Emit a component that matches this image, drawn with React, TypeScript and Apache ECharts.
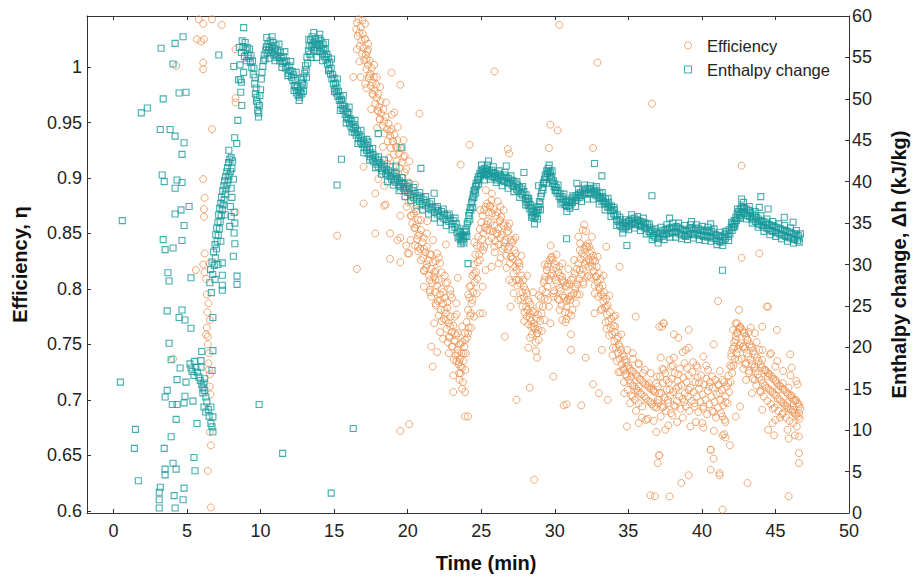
import React, { useEffect, useRef } from 'react';
import * as echarts from 'echarts';

type P = [number, number];

// ---------- Efficiency (η), left axis ----------
const effEarly: P[] = [
  [5.8,1.043],[6.7,1.043],[6.1,1.039],[7.36,1.038],[5.67,1.025],[5.95,1.023],[6.15,1.025],[8.3,1.016],[4.26,1.001],[6.1,1.004],[6.1,0.998],
  [8.3,0.972],[8.3,0.968],[6.7,0.944],[6.1,0.899],[6.2,0.882],[6.15,0.872],[6.15,0.865],[8.3,0.869],[6.2,0.832],[6.1,0.822],[5.6,0.817],
  [6.2,0.815],[6.5,0.823],[6.35,0.795],[6.55,0.772],[6.35,0.765],[6.28,0.759],[6.41,0.757],[6.41,0.75],[6.49,0.742],[4.05,0.737],[6.55,0.723],
  [6.55,0.712],[6.55,0.671],[6.62,0.659],[6.41,0.636],[6.62,0.603],[6.45,0.733],[6.5,0.727],[6.6,0.705],[6.38,0.779],[6.45,0.787],[6.3,0.809]
];

const effBandA: P[] = [
  [16.55,1.04],[16.6,1.028],[16.65,1.043],[16.7,1.031],[16.75,1.019],[16.8,1.036],[16.85,1.024],[16.9,1.012],[16.95,1.03],[17.0,1.017],
  [17.05,1.006],[17.1,1.025],[17.15,1.011],[17.2,0.998],[17.25,1.014],[17.3,1.002],[17.35,0.99],[17.4,1.006],[17.45,0.994],[17.5,0.983],
  [17.55,0.999],[17.6,0.986],[17.65,0.975],[17.7,0.991],[17.75,0.979],[17.8,0.967],[17.85,0.984],[17.9,0.972],[17.95,0.961],[18.0,0.976],
  [18.05,0.964],[18.1,0.953],[18.15,0.969],[18.2,0.958],[18.3,0.947],[18.35,0.962],[18.4,0.951],[18.45,0.94],[18.5,0.955],[18.6,0.944],
  [18.65,0.933],[18.7,0.949],[18.8,0.938],[18.85,0.927],[18.9,0.944],[19.0,0.933],[19.05,0.921],[19.1,0.939],[19.2,0.928],[19.25,0.915],
  [19.3,0.934],[19.4,0.922],[19.45,0.909],[19.5,0.927],[19.6,0.914],[19.65,0.9],[19.7,0.919],[19.8,0.905],[19.85,0.89],[19.9,0.908],
  [20.0,0.893],[20.05,0.878],[20.1,0.896],[20.2,0.88],[20.25,0.866],[20.3,0.884],[20.4,0.868],[20.45,0.855],[20.5,0.872],[20.6,0.858],
  [20.65,0.845],[20.7,0.862],[20.8,0.849],[20.85,0.836],[20.9,0.853],[21.0,0.842],[21.05,0.828],[21.1,0.846],[21.2,0.833],[21.25,0.819],
  [21.3,0.838],[21.4,0.826],[21.45,0.812],[21.5,0.831],[21.6,0.818],[21.65,0.805],[21.7,0.824],[21.8,0.811],[21.85,0.797],[21.9,0.816],
  [22.0,0.803],[22.05,0.789],[22.1,0.808],[22.2,0.795],[22.25,0.781],[22.3,0.8],[22.4,0.787],[22.45,0.773],[22.5,0.792],[22.6,0.778],
  [22.65,0.764],[22.7,0.783],[22.8,0.769],[22.85,0.756],[22.9,0.775],[23.0,0.761],[23.05,0.748],[23.1,0.767],[23.2,0.753],[23.25,0.74],
  [23.3,0.758],[23.4,0.745],[23.45,0.732],[23.5,0.75],[23.55,0.737],[23.6,0.724],[23.65,0.742],[23.7,0.729],[23.75,0.716],[23.8,0.735],
  [23.85,0.748],[23.9,0.76],[23.95,0.742]
];

const effSpreadA: P[] = [
  [15.2,0.848],[16.55,0.818],[16.3,0.991],[16.8,0.991],[17.4,0.992],[17.9,0.991],[17.2,0.981],[18.9,0.995],[19.5,0.984],[17.6,0.976],
  [19.1,0.959],[20.8,0.958],[24.2,0.93],[23.6,0.912],[17.0,0.91],[18.0,0.899],[18.4,0.893],[17.8,0.886],[18.6,0.913],[19.1,0.904],
  [19.7,0.895],[20.1,0.886],[17.0,0.877],[18.4,0.875],[18.5,0.876],[19.5,0.866],[20.2,0.866],[17.8,0.85],[18.8,0.85],[20.7,0.848],
  [19.5,0.846],[19.9,0.839],[20.5,0.839],[21.1,0.836],[22.6,0.84],[18.8,0.827],[20.1,0.832],[21.6,0.831],[22.2,0.823],[19.5,0.824],
  [19.3,0.844],[20.0,0.832],[20.2,0.844],[20.7,0.838],[20.9,0.826],[21.1,0.817],[21.1,0.802],[21.5,0.808],[21.8,0.815],[22.0,0.832],
  [21.6,0.793],[21.9,0.787],[22.2,0.79],[22.7,0.806],[22.9,0.799],[23.4,0.81],[22.5,0.781],[21.8,0.769],[22.6,0.772],[22.9,0.766],
  [23.2,0.775],[22.2,0.761],[22.8,0.757],[23.4,0.76],[23.7,0.766],[24.1,0.76],[21.6,0.748],[22.0,0.743],[23.0,0.748],[23.6,0.751],
  [23.9,0.754],[23.4,0.742],[23.8,0.742],[23.5,0.734],[23.6,0.73],[23.5,0.724],[21.7,0.73],[23.1,0.707],[23.7,0.71],[23.9,0.707],
  [24.1,0.685],[19.5,0.672],[20.1,0.678],[24.2,0.802],[24.4,0.79],[24.5,0.775],[17.1,1.039],[16.5,1.034],[16.55,1.016],[17.1,1.025],
  [17.3,1.016],[17.2,1.007],[18.0,0.96],[18.1,0.953],[18.8,0.942],[19.0,0.933],[19.3,0.927],[19.8,0.92],[20.5,0.855],[20.9,0.862],
  [21.3,0.85],[20.6,0.87],[21.3,0.822],[21.5,0.797],[21.9,0.808],[22.3,0.815],[22.1,0.776],[22.4,0.797],[22.7,0.788],[23.0,0.792],
  [23.2,0.76],[23.3,0.787],[22.4,0.755],[22.8,0.742],[23.3,0.735],[23.1,0.722],[22.6,0.805],[21.9,0.825]
];

const effBandB: P[] = [
  [24.0,0.77],[24.05,0.756],[24.1,0.781],[24.15,0.765],[24.2,0.792],[24.25,0.776],[24.3,0.803],[24.35,0.787],[24.4,0.812],[24.45,0.797],
  [24.5,0.822],[24.55,0.806],[24.6,0.831],[24.65,0.815],[24.7,0.839],[24.75,0.824],[24.8,0.847],[24.85,0.831],[24.9,0.854],[24.95,0.838],
  [25.0,0.86],[25.05,0.845],[25.1,0.866],[25.15,0.85],[25.2,0.871],[25.25,0.855],[25.3,0.874],[25.35,0.858],[25.4,0.877],[25.45,0.861],
  [25.5,0.869],[25.55,0.853],[25.6,0.875],[25.65,0.86],[25.7,0.846],[25.75,0.868],[25.8,0.852],[25.85,0.872],[25.9,0.857],[25.95,0.843],
  [26.0,0.866],[26.05,0.85],[26.1,0.869],[26.15,0.854],[26.2,0.84],[26.25,0.861],[26.3,0.846],[26.35,0.865],[26.4,0.849],[26.45,0.836],
  [26.5,0.857],[26.55,0.842],[26.6,0.859],[26.65,0.844],[26.7,0.83],[26.75,0.851],[26.8,0.836],[26.85,0.852],[26.9,0.838],[26.95,0.823],
  [27.0,0.844],[27.05,0.829],[27.1,0.842],[27.15,0.827],[27.2,0.814],[27.25,0.835],[27.3,0.82],[27.35,0.832],[27.4,0.817],[27.45,0.803],
  [27.5,0.824],[27.55,0.808],[27.6,0.82],[27.65,0.805],[27.7,0.791],[27.75,0.812],[27.8,0.797],[27.85,0.808],[27.9,0.793],[27.95,0.779],
  [28.0,0.799],[28.05,0.784],[28.1,0.796],[28.15,0.781],[28.2,0.768],[28.25,0.788],[28.3,0.774],[28.35,0.786],[28.4,0.771],[28.45,0.759],
  [28.5,0.78],[28.55,0.766],[28.6,0.779],[28.65,0.764],[28.7,0.752],[28.75,0.773],[28.8,0.76],[28.85,0.777],[28.9,0.763],[28.95,0.785],
  [29.0,0.771],[29.05,0.792],[29.1,0.778],[29.15,0.799],[29.2,0.784],[29.25,0.806],[29.3,0.791],[29.35,0.811],[29.4,0.797],[29.45,0.817],
  [29.5,0.802],[29.55,0.822],[29.6,0.808],[29.65,0.826],[29.7,0.812],[29.75,0.828],[29.8,0.814],[29.85,0.826],[29.9,0.812],[29.95,0.798],
  [30.0,0.822],[30.05,0.808],[30.1,0.819],[30.15,0.805],[30.2,0.791],[30.25,0.815],[30.3,0.801],[30.35,0.812],[30.4,0.798],[30.45,0.785],
  [30.5,0.808],[30.55,0.794],[30.6,0.806],[30.65,0.792],[30.7,0.779],[30.75,0.803],[30.8,0.789],[30.85,0.805],[30.9,0.791],[30.95,0.778],
  [31.0,0.804],[31.05,0.79],[31.1,0.808],[31.15,0.794],[31.2,0.781],[31.25,0.81],[31.3,0.796],[31.35,0.814],[31.4,0.8],[31.45,0.787],
  [31.5,0.818],[31.55,0.804],[31.6,0.823],[31.65,0.809],[31.7,0.795],[31.75,0.827],[31.8,0.813],[31.85,0.832],[31.9,0.818],[31.95,0.804],
  [32.0,0.836],[32.05,0.822],[32.1,0.839],[32.15,0.825],[32.2,0.811],[32.25,0.841],[32.3,0.827],[32.35,0.838],[32.4,0.824],[32.45,0.81],
  [32.5,0.834],[32.55,0.82],[32.6,0.83],[32.65,0.816],[32.7,0.803],[32.75,0.825],[32.8,0.811],[32.85,0.82],[32.9,0.806],[32.95,0.793],
  [33.0,0.814],[33.05,0.8],[33.1,0.809],[33.15,0.795],[33.2,0.782],[33.25,0.803],[33.3,0.789],[33.35,0.797],[33.4,0.783],[33.45,0.77],
  [33.5,0.791],[33.55,0.777],[33.6,0.785],[33.65,0.771],[33.7,0.758],[33.75,0.779],[33.8,0.765],[33.85,0.773],[33.9,0.759],[33.95,0.747],
  [34.0,0.767],[34.05,0.753],[34.1,0.761],[34.15,0.747],[34.2,0.735],[34.25,0.755],[34.3,0.742],[34.35,0.75],[34.4,0.737],[34.45,0.725],
  [34.5,0.745],[34.55,0.732],[34.6,0.741],[34.65,0.728],[34.7,0.716],[34.75,0.736],[34.8,0.723],[34.85,0.734],[34.9,0.721],[34.95,0.709],
  [35.0,0.731],[35.05,0.718],[35.1,0.728],[35.15,0.715],[35.2,0.704],[35.25,0.726],[35.3,0.713],[35.35,0.725],[35.4,0.712],[35.45,0.7],
  [35.5,0.723],[35.55,0.71],[35.6,0.721],[35.65,0.708],[35.7,0.697],[35.75,0.719],[35.8,0.706],[35.85,0.718],[35.9,0.705],[35.95,0.694],
  [36.0,0.716],[36.1,0.703],[36.15,0.714],[36.2,0.701],[36.3,0.713],[36.35,0.699],[36.4,0.711],[36.5,0.698],[36.55,0.71],[36.6,0.696],
  [36.7,0.708],[36.75,0.694],[36.8,0.707],[36.9,0.693]
];

const effSpreadB: P[] = [
  [24.5,0.814],[24.7,0.796],[24.3,0.778],[24.9,0.778],[25.1,0.802],[24.9,0.826],[25.2,0.838],[25.4,0.853],[25.6,0.874],[25.7,0.88],
  [26.3,0.874],[26.3,0.862],[26.1,0.85],[26.8,0.856],[25.9,0.838],[26.6,0.838],[27.2,0.844],[27.0,0.829],[27.6,0.823],[26.2,0.823],
  [27.4,0.808],[27.9,0.802],[28.2,0.79],[28.3,0.778],[28.6,0.769],[28.8,0.76],[28.9,0.754],[28.4,0.766],[28.1,0.775],[27.8,0.784],
  [27.2,0.796],[26.9,0.808],[25.7,0.82],[25.3,0.817],[27.0,0.784],[29.7,0.948],[30.2,0.943],[26.8,0.926],[26.9,0.922],[29.6,0.927],
  [32.6,0.927],[23.9,0.685],[26.6,0.757],[25.1,0.778],[28.2,0.747],[28.8,0.738],[29.9,0.721],[28.3,0.711],[27.4,0.7],[30.6,0.695],
  [30.8,0.696],[31.8,0.695],[31.1,0.745],[31.1,0.759],[32.1,0.738],[32.6,0.714],[33.2,0.745],[33.0,0.706],[33.6,0.7],[32.7,0.778],
  [35.5,0.775],[29.7,0.769],[30.5,0.772],[30.8,0.773],[34.4,0.82],[33.5,0.838],[28.6,0.628],[36.5,0.614],[37.1,0.766],[37.4,0.769],
  [37.0,0.643],[37.1,0.65],[34.9,0.676],[35.7,0.679],[36.2,0.682],[29.3,0.808],[29.5,0.82],[29.8,0.829],[30.3,0.82],[30.5,0.811],
  [30.8,0.802],[31.0,0.793],[30.8,0.784],[30.3,0.79],[29.9,0.796],[29.6,0.784],[29.3,0.772],[31.4,0.802],[31.7,0.817],[32.0,0.829],
  [32.2,0.838],[32.4,0.832],[32.6,0.826],[32.3,0.82],[32.8,0.811],[33.0,0.802],[33.3,0.793],[33.5,0.784],[34.0,0.775],[34.1,0.766],
  [34.3,0.757],[34.4,0.748],[34.7,0.739],[34.9,0.73],[35.2,0.721],[35.3,0.742],[35.7,0.733],[36.0,0.724],[36.4,0.715],[36.7,0.709],
  [37.0,0.7],[37.4,0.694],[35.3,0.703],[35.7,0.712],[34.7,0.727],[31.7,0.835],[31.9,0.853],[32.0,0.858],[31.6,0.847],[30.3,1.038],
  [32.9,1.004],[25.9,0.996],[36.6,0.967]
];

const effBandC: P[] = [
  [37.0,0.712],[37.1,0.7],[37.15,0.721],[37.25,0.706],[37.3,0.693],[37.35,0.715],[37.45,0.702],[37.5,0.724],[37.55,0.69],[37.6,0.709],
  [37.7,0.697],[37.75,0.716],[37.85,0.704],[37.9,0.688],[37.95,0.719],[38.05,0.707],[38.1,0.695],[38.15,0.724],[38.25,0.71],[38.3,0.699],
  [38.35,0.717],[38.45,0.703],[38.5,0.728],[38.55,0.692],[38.6,0.713],[38.7,0.701],[38.75,0.72],[38.85,0.706],[38.9,0.694],[38.95,0.716],
  [39.05,0.703],[39.1,0.722],[39.15,0.69],[39.2,0.711],[39.3,0.699],[39.35,0.725],[39.45,0.707],[39.5,0.694],[39.55,0.716],[39.65,0.703],
  [39.7,0.72],[39.75,0.689],[39.8,0.71],[39.9,0.698],[39.95,0.722],[40.05,0.705],[40.1,0.692],[40.15,0.714],[40.25,0.7],[40.3,0.719],
  [40.35,0.687],[40.4,0.708],[40.5,0.696],[40.55,0.716],[40.65,0.703],[40.7,0.69],[40.75,0.711],[40.85,0.698],[40.9,0.718],[40.95,0.684],
  [41.0,0.705],[41.1,0.693],[41.15,0.713],[41.25,0.7],[41.3,0.688],[41.35,0.709],[41.45,0.695],[41.5,0.716],[41.55,0.682],[41.6,0.703],
  [41.7,0.712],[41.75,0.697],[41.8,0.722],[41.85,0.707],[41.9,0.731],[41.95,0.716],[42.0,0.739],[42.05,0.724],[42.1,0.746],[42.15,0.731],
  [42.2,0.752],[42.25,0.737],[42.3,0.757],[42.35,0.742],[42.4,0.761],[42.45,0.746],[42.5,0.764],[42.55,0.749],[42.6,0.766],[42.65,0.751],
  [42.7,0.737],[42.75,0.763],[42.8,0.748],[42.85,0.761],[42.9,0.746],[42.95,0.732],[43.0,0.757],[43.05,0.742],[43.1,0.754],[43.15,0.739],
  [43.2,0.726],[43.25,0.75],[43.3,0.736],[43.35,0.747],[43.4,0.732],[43.45,0.719],[43.5,0.744],[43.55,0.729],[43.6,0.741],[43.65,0.726],
  [43.7,0.713],[43.75,0.738],[43.8,0.723],[43.85,0.735],[43.9,0.72],[43.95,0.708],[44.0,0.732],[44.05,0.718],[44.1,0.729],[44.15,0.715],
  [44.2,0.703],[44.25,0.727],[44.3,0.713],[44.35,0.726],[44.4,0.711],[44.45,0.699],[44.5,0.724],[44.55,0.71],[44.6,0.723],[44.65,0.708],
  [44.7,0.696],[44.75,0.721],[44.8,0.707],[44.85,0.719],[44.9,0.705],[44.95,0.693],[45.0,0.717],[45.05,0.704],[45.1,0.715],[45.15,0.701],
  [45.2,0.69],[45.25,0.713],[45.3,0.7],[45.35,0.712],[45.4,0.698],[45.45,0.687],[45.5,0.71],[45.55,0.697],[45.6,0.709],[45.65,0.695],
  [45.7,0.684],[45.75,0.707],[45.8,0.694],[45.85,0.705],[45.9,0.692],[45.95,0.681],[46.0,0.704],[46.05,0.691],[46.1,0.702],[46.15,0.689],
  [46.2,0.679],[46.25,0.7],[46.3,0.688],[46.35,0.699],[46.4,0.686],[46.45,0.676],[46.5,0.697],[46.55,0.685],[46.6,0.694],[46.65,0.683],
  [46.7,0.692]
];

const effSpreadC: P[] = [
  [37.4,0.769],[37.3,0.766],[38.1,0.759],[38.4,0.756],[39.1,0.763],[40.8,0.75],[37.2,0.738],[37.8,0.736],[38.1,0.738],[38.9,0.745],
  [39.1,0.747],[38.7,0.743],[37.4,0.727],[37.9,0.73],[39.4,0.734],[40.1,0.739],[40.3,0.731],[39.7,0.729],[39.0,0.729],[38.4,0.723],
  [37.6,0.718],[36.9,0.715],[37.1,0.706],[37.8,0.709],[38.4,0.712],[39.1,0.709],[39.8,0.715],[40.5,0.712],[41.1,0.714],[41.4,0.718],
  [40.7,0.721],[41.2,0.706],[41.6,0.698],[37.0,0.697],[37.7,0.7],[38.2,0.694],[38.8,0.698],[39.5,0.697],[40.1,0.694],[40.8,0.689],
  [41.4,0.685],[41.6,0.68],[37.2,0.685],[38.0,0.686],[38.7,0.684],[39.6,0.68],[40.1,0.675],[37.5,0.673],[36.9,0.671],[40.6,0.655],
  [40.8,0.647],[40.6,0.637],[41.2,0.632],[41.4,0.668],[41.9,0.659],[41.6,0.666],[41.8,0.715],[42.0,0.73],[42.0,0.742],[42.2,0.748],
  [42.3,0.754],[42.4,0.76],[42.4,0.769],[42.6,0.765],[42.9,0.76],[43.2,0.761],[43.6,0.76],[43.1,0.754],[42.8,0.748],[43.4,0.748],
  [43.9,0.745],[44.1,0.736],[42.5,0.736],[43.0,0.733],[43.6,0.73],[43.2,0.724],[43.6,0.718],[44.3,0.727],[44.7,0.742],[45.0,0.73],
  [44.5,0.721],[44.0,0.707],[45.0,0.718],[45.2,0.709],[45.5,0.715],[45.9,0.711],[46.1,0.704],[46.4,0.7],[46.6,0.696],[46.6,0.688],
  [46.2,0.691],[45.8,0.697],[45.5,0.688],[45.0,0.682],[44.5,0.673],[44.9,0.668],[45.9,0.665],[46.6,0.667],[46.0,0.741],[46.1,0.729],
  [46.5,0.714],[44.8,0.679],[44.1,0.691],[42.3,0.685],[42.6,0.694],[43.0,0.718],[43.4,0.706],[42.3,0.769],[44.5,0.784],[45.1,0.763],
  [44.1,0.766],[42.7,0.911],[42.7,0.828],[43.9,0.832],[41.1,0.789],[44.4,0.784],[36.8,0.613],[37.8,0.613],[39.1,0.632],[38.6,0.625],
  [43.1,0.625],[45.9,0.613],[46.6,0.652],[46.6,0.643],[41.2,0.634],[40.6,0.655],[37.1,0.65],[41.4,0.601]
];

const effWide: P[] = [
  [16.72,1.005],[16.92,1.042],[17.12,0.985],[17.32,1.021],[17.52,0.962],[17.72,1.002],[17.92,0.945],[18.12,0.982],[18.32,0.928],[18.52,0.968],
  [18.72,0.918],[18.92,0.957],[19.12,0.905],[19.32,0.946],[19.52,0.889],[19.72,0.934],[19.92,0.874],[20.12,0.915],[20.32,0.859],[20.52,0.894],
  [20.72,0.834],[20.92,0.876],[21.12,0.816],[21.32,0.861],[21.52,0.799],[21.72,0.844],[21.92,0.785],[22.12,0.828],[22.32,0.771],[22.52,0.812],
  [22.72,0.752],[22.92,0.795],[23.12,0.736],[23.32,0.777],[23.52,0.718],[23.72,0.752],[23.92,0.727],[24.12,0.795],[24.32,0.765],[24.52,0.842],
  [24.72,0.809],[24.92,0.871],[25.12,0.835],[25.32,0.889],[25.52,0.843],[25.72,0.886],[25.92,0.833],[26.12,0.879],[26.32,0.828],[26.52,0.871],
  [26.72,0.819],[26.92,0.859],[27.12,0.806],[27.32,0.846],[27.52,0.79],[27.72,0.83],[27.92,0.771],[28.12,0.812],[28.32,0.756],[28.52,0.797],
  [28.72,0.744],[28.92,0.794],[29.12,0.762],[29.32,0.822],[29.52,0.79],[29.72,0.839],[29.92,0.793],[30.12,0.831],[30.32,0.781],[30.52,0.823],
  [30.72,0.77],[30.92,0.818],[31.12,0.776],[31.32,0.826],[31.52,0.795],[31.72,0.841],[31.92,0.806],[32.12,0.852],[32.32,0.812],[32.52,0.847],
  [32.72,0.796],[32.92,0.829],[33.12,0.781],[33.32,0.812],[33.52,0.764],[33.72,0.794],[33.92,0.74],[34.12,0.776],[34.32,0.725],[34.52,0.759],
  [34.72,0.706],[34.92,0.745],[35.12,0.697],[35.32,0.737],[35.52,0.69],[35.72,0.732],[35.92,0.684],[36.12,0.727],[36.32,0.683],[36.52,0.724],
  [36.72,0.681],[36.92,0.721],[37.32,0.728],[37.72,0.677],[38.02,0.731],[38.32,0.68],[38.82,0.733],[39.22,0.676],[39.62,0.731],[40.02,0.679],
  [40.42,0.727],[40.82,0.672],[41.22,0.726],[41.52,0.669],[42.12,0.763],[42.52,0.781],[42.82,0.728],[43.32,0.765],[43.72,0.752],[44.12,0.745],
  [44.62,0.741],[45.12,0.735],[45.52,0.726],[46.02,0.722],[46.42,0.717],[44.82,0.692],[45.32,0.684],[45.82,0.673],[46.32,0.668]
];

// ---------- Enthalpy change (Δh, kJ/kg), right axis ----------
const enthEarly: P[] = [
  [8.85,58.6],[4.73,57.5],[4.19,56.7],[3.24,56.1],[4.05,54.2],[7.16,55.3],[8.18,53.9],[4.93,50.8],[4.46,50.7],[3.38,50.0],[2.3,48.9],
  [1.89,48.3],[8.72,49.2],[3.18,46.3],[3.85,46.3],[4.19,45.5],[4.8,44.7],[4.66,43.3],[8.24,45.3],[8.38,44.6],[7.84,43.8],[3.31,40.8],
  [3.45,40.0],[4.32,40.2],[4.66,39.9],[4.19,39.2],[0.6,35.3],[5.14,37.0],[4.59,36.6],[4.19,36.1],[4.8,34.7],[3.38,33.0],[3.51,31.8],
  [4.05,32.0],[4.66,32.9],[3.7,29.0],[3.78,28.0],[5.27,28.4],[7.4,30.2],[7.4,28.7],[7.4,27.5],[7.4,26.9],[8.4,28.6],[8.4,27.6],
  [3.65,24.4],[4.66,24.5],[4.46,23.6],[4.86,23.3],[5.27,22.3],[6.76,23.6],[3.78,20.5],[6.76,19.6],[3.92,18.5],[6.0,19.5],[5.95,18.4],
  [4.53,17.5],[5.2,18.0],[6.7,17.2],[0.47,15.8],[4.32,16.1],[4.93,15.8],[3.65,14.8],[3.51,14.0],[4.0,13.1],[4.32,13.1],[4.8,13.3],
  [4.86,14.1],[5.4,13.5],[4.26,11.3],[5.68,10.8],[1.49,10.1],[3.92,9.2],[1.42,7.8],[3.45,7.8],[4.05,6.0],[5.47,6.7],[3.51,5.3],
  [3.51,4.6],[4.26,5.3],[5.54,5.1],[1.69,3.9],[3.18,3.1],[3.11,2.5],[3.11,1.6],[3.11,0.6],[4.8,3.0],[4.12,2.1],[4.73,1.6],[4.19,0.6],
  [8.2,36.3],[8.25,35.0],[8.2,33.8],[8.25,32.5],[8.15,31.0],[8.5,52.3],[8.45,47.4],[8.7,52.0]
];

const enthDesc: P[] = [
  [5.27,17.5],[5.6,17.6],[5.95,17.6],[5.47,16.6],[5.8,16.4],[6.15,15.7],[6.08,15.1],[6.08,14.5],[6.28,14.0],[6.15,12.8],[6.28,12.2],
  [6.62,12.8],[6.76,11.6],[6.62,10.8],[6.76,9.8],[5.35,17.1],[5.7,17.0],[5.9,16.0],[6.0,15.5],[6.2,14.8],[6.35,13.4],[6.45,12.5],
  [6.5,11.7],[6.7,10.4],[6.2,16.2],[5.5,18.3]
];

const enthRise: P[] = [
  [6.7,30.3],[6.75,28.8],[6.8,31.5],[6.85,29.9],[6.9,32.4],[6.92,30.8],[6.95,33.6],[7.0,31.9],[7.02,34.4],[7.05,32.8],[7.1,35.1],
  [7.12,33.5],[7.15,36.0],[7.2,34.3],[7.22,36.8],[7.25,35.2],[7.3,37.4],[7.32,35.9],[7.35,38.1],[7.4,36.6],[7.42,38.9],[7.45,37.2],
  [7.5,39.5],[7.52,37.8],[7.55,40.1],[7.6,38.5],[7.62,40.6],[7.65,39.1],[7.7,41.2],[7.72,39.6],[7.75,41.7],[7.8,40.2],[7.82,42.3],
  [7.85,40.7],[7.9,42.7],[7.95,41.2],[8.0,42.9],[8.05,41.6],[8.1,42.5],[8.15,40.3],[8.0,39.2],[8.05,38.1],[7.95,37.0],[8.0,35.8],
  [7.9,34.6],[6.6,29.4],[6.55,27.8],[6.65,26.6],[6.9,28.2],[7.1,30.0],[7.3,32.8],[7.6,36.0]
];

const enthBand: P[] = [
  [8.55,56.2],[8.6,54.1],[8.62,52.3],[8.65,50.8],[8.7,55.6],[8.75,57.0],[8.8,56.3],[8.85,53.2],[8.9,55.1],[8.95,56.8],[9.0,55.9],
  [9.05,54.6],[9.1,56.2],[9.15,55.3],[9.2,54.9],[9.25,56.0],[9.3,54.4],[9.35,55.2],[9.4,53.8],[9.45,54.6],[9.5,52.9],[9.55,53.7],
  [9.6,51.8],[9.62,52.6],[9.65,50.6],[9.7,51.3],[9.72,49.7],[9.75,50.2],[9.8,48.6],[9.82,49.4],[9.85,47.8],[9.88,48.3],[9.92,49.2],
  [9.95,50.4],[10.0,51.1],[10.05,52.4],[10.1,53.2],[10.15,53.9],[10.2,54.6],[10.25,55.3],[10.3,54.8],[10.35,55.9],[10.4,56.3],
  [10.45,55.5],[10.5,56.6],[10.55,55.8],[10.6,56.2],[10.65,57.0],[10.7,55.6],[10.75,56.4],[10.8,55.9],[10.85,56.8],[10.9,55.3],
  [10.95,56.1],[11.0,55.5],[11.05,56.4],[11.1,55.0],[11.15,55.8],[11.2,55.2],[11.3,54.6],[11.35,55.6],[11.4,54.9],[11.5,54.3],
  [11.55,55.1],[11.6,54.5],[11.7,53.7],[11.75,54.6],[11.8,53.9],[11.9,53.1],[11.95,54.0],[12.0,53.4],[12.1,52.6],[12.15,53.3],
  [12.2,52.2],[12.25,52.9],[12.3,51.6],[12.35,52.4],[12.4,51.3],[12.45,50.7],[12.5,51.5],[12.55,50.4],[12.6,51.0],[12.65,50.2],
  [12.7,50.8],[12.75,51.4],[12.8,50.6],[12.85,51.9],[12.9,52.6],[12.95,51.7],[13.0,53.1],[13.05,54.0],[13.1,53.5],[13.15,55.0],
  [13.2,54.3],[13.25,55.8],[13.3,56.4],[13.35,55.4],[13.4,57.1],[13.45,56.3],[13.5,57.5],[13.55,56.6],[13.6,55.9],[13.65,56.9],
  [13.7,56.2],[13.75,57.2],[13.8,56.5],[13.85,55.8],[13.9,56.7],[13.95,57.3],[14.0,56.4],[14.05,55.7],[14.1,57.0],[14.15,56.1],
  [14.2,55.5],[14.25,56.6],[14.3,55.9],[14.35,55.1],[14.4,56.0],[14.45,54.7],[14.5,55.4],[14.55,54.2],[14.6,55.0],[14.65,53.6],
  [14.7,54.4],[14.75,53.0],[14.8,53.7],[14.85,52.4],[14.9,52.9],[14.95,51.8],[15.0,52.5],[15.05,51.2],[15.1,51.9],[15.15,50.7],
  [15.2,51.4],[15.25,50.3],[15.3,50.9],[15.35,49.8],[15.4,50.4],[15.45,49.3],[15.5,49.9],[15.55,48.8],[15.6,49.5],[15.65,48.6],
  [15.7,49.1],[15.75,48.1],[15.8,48.8],[15.85,47.7],[15.9,48.4],[15.95,47.5],[16.0,48.1],[16.05,47.0],[16.1,47.6],[16.15,46.6],
  [16.2,47.3],[16.3,46.4],[16.35,46.9],[16.4,45.9],[16.45,46.5],[16.5,45.6],[16.6,46.1],[16.65,45.2],[16.7,45.7],[16.8,44.8],
  [16.85,45.4],[16.9,44.5],[17.0,45.0],[17.05,44.1],[17.1,44.6],[17.2,43.8],[17.25,44.3],[17.3,43.4],[17.4,43.9],[17.45,43.0],
  [17.5,43.5],[17.6,42.7],[17.65,43.2],[17.7,42.4],[17.8,42.9],[17.9,42.1],[17.95,42.6],[18.0,41.8],[18.1,42.3],[18.2,41.6],
  [18.25,42.1],[18.3,41.3],[18.4,41.8],[18.5,41.0],[18.55,41.5],[18.6,40.8],[18.7,41.3],[18.8,40.6],[18.85,41.1],[18.9,40.3],
  [19.0,40.8],[19.1,40.1],[19.15,40.6],[19.2,39.9],[19.3,40.4],[19.4,39.6],[19.45,40.1],[19.5,39.4],[19.6,39.9],[19.7,39.2],
  [19.75,39.7],[19.8,38.9],[19.9,39.4],[20.0,38.7],[20.1,39.2],[20.2,38.4],[20.3,38.9],[20.4,38.1],[20.5,38.6],[20.6,37.9],
  [20.7,38.3],[20.8,37.6],[20.9,38.1],[21.0,37.3],[21.1,37.8],[21.2,37.1],[21.3,37.5],[21.4,36.8],[21.5,37.3],[21.6,36.6],
  [21.7,37.0],[21.8,36.3],[21.9,36.8],[22.0,36.1],[22.1,36.5],[22.2,35.9],[22.3,36.4],[22.4,35.6],[22.5,36.1],[22.6,35.4],
  [22.7,35.9],[22.8,35.2],[22.9,35.6],[23.0,34.9],[23.1,35.3],[23.2,34.5],[23.3,34.9],[23.35,33.9],[23.4,34.4],[23.5,33.4],
  [23.55,34.0],[23.6,33.0],[23.65,33.6],[23.7,32.8],[23.75,33.5],[23.8,33.1],[23.85,33.9],[23.9,33.4],[23.95,34.3],[24.0,34.0],
  [24.05,34.9],[24.1,35.2],[24.15,35.9],[24.2,36.3],[24.25,36.9],[24.3,36.6],[24.35,37.5],[24.4,37.9],[24.45,38.4],[24.5,38.1],
  [24.55,39.0],[24.6,39.4],[24.65,39.8],[24.7,39.5],[24.75,40.2],[24.8,40.6],[24.85,40.3],[24.9,41.0],[24.95,40.7],[25.0,41.3],
  [25.05,40.9],[25.1,41.5],[25.15,41.1],[25.2,40.8],[25.25,41.6],[25.3,41.2],[25.35,40.9],[25.4,41.5],[25.45,41.0],[25.5,40.7],
  [25.55,41.3],[25.6,40.9],[25.7,41.4],[25.75,40.6],[25.8,41.1],[25.9,40.5],[25.95,41.0],[26.0,40.7],[26.1,40.2],[26.15,40.9],
  [26.2,40.4],[26.3,40.8],[26.35,40.1],[26.4,40.6],[26.5,40.2],[26.55,40.8],[26.6,40.0],[26.7,40.5],[26.8,39.9],[26.85,40.4],
  [26.9,39.8],[27.0,40.2],[27.1,39.6],[27.15,40.1],[27.2,39.4],[27.3,39.8],[27.4,39.1],[27.45,39.6],[27.5,38.9],[27.6,39.3],
  [27.7,38.6],[27.75,39.1],[27.8,38.4],[27.9,38.8],[28.0,37.9],[28.05,38.4],[28.1,37.5],[28.15,38.0],[28.2,37.1],[28.25,37.6],
  [28.3,36.7],[28.35,37.2],[28.4,36.3],[28.45,36.8],[28.5,35.9],[28.55,36.4],[28.6,35.6],[28.65,36.1],[28.7,35.8],[28.75,36.5],
  [28.8,36.2],[28.85,37.0],[28.9,36.7],[28.95,37.6],[29.0,37.3],[29.05,38.2],[29.1,38.6],[29.15,39.3],[29.2,39.0],[29.25,39.9],
  [29.3,40.3],[29.35,40.8],[29.4,40.5],[29.45,41.3],[29.5,41.0],[29.55,41.6],[29.6,41.2],[29.65,40.7],[29.7,41.1],[29.75,40.3],
  [29.8,40.6],[29.85,39.8],[29.9,40.1],[29.95,39.4],[30.0,39.7],[30.05,39.0],[30.1,39.3],[30.15,38.6],[30.2,38.9],[30.3,38.2],
  [30.35,38.6],[30.4,37.9],[30.5,38.2],[30.55,37.5],[30.6,37.9],[30.7,37.2],[30.75,37.6],[30.8,37.0],[30.9,37.5],[30.95,37.1],
  [31.0,37.7],[31.1,37.3],[31.15,37.9],[31.2,37.5],[31.3,38.1],[31.4,37.7],[31.45,38.3],[31.5,37.9],[31.6,38.5],[31.7,38.1],
  [31.75,38.7],[31.8,38.3],[31.9,38.9],[32.0,38.5],[32.05,39.1],[32.1,38.6],[32.2,39.2],[32.3,38.7],[32.35,39.1],[32.4,38.5],
  [32.5,39.0],[32.6,38.6],[32.65,39.2],[32.7,38.8],[32.8,38.3],[32.85,38.9],[32.9,38.4],[33.0,38.0],[33.05,38.6],[33.1,38.1],
  [33.2,37.6],[33.25,38.2],[33.3,37.7],[33.4,37.3],[33.45,37.9],[33.5,37.4],[33.6,36.9],[33.65,37.5],[33.7,37.0],[33.8,36.5],
  [33.85,37.1],[33.9,36.6],[34.0,36.1],[34.05,36.6],[34.1,35.9],[34.2,35.4],[34.25,36.0],[34.3,35.2],[34.4,34.8],[34.45,35.4],
  [34.5,34.6],[34.6,35.1],[34.65,34.3],[34.7,34.8],[34.8,34.4],[34.85,35.0],[34.9,34.6],[35.0,35.2],[35.05,34.7],[35.1,35.3],
  [35.2,34.9],[35.25,35.5],[35.3,35.0],[35.4,35.6],[35.45,35.1],[35.5,34.8],[35.6,35.4],[35.65,34.9],[35.7,35.3],[35.8,34.7],
  [35.85,35.2],[35.9,34.6],[36.0,35.1],[36.1,34.5],[36.15,35.0],[36.2,34.3],[36.3,34.8],[36.4,34.0],[36.45,34.5],[36.5,33.8],
  [36.6,34.2],[36.7,33.5],[36.75,34.0],[36.8,33.3],[36.9,33.8],[37.0,33.1],[37.05,33.7],[37.1,33.2],[37.2,33.9],[37.3,33.4],
  [37.35,34.1],[37.4,33.6],[37.5,34.2],[37.6,33.7],[37.65,34.3],[37.7,33.8],[37.8,34.4],[37.9,33.9],[37.95,34.5],[38.0,33.8],
  [38.1,34.4],[38.2,33.9],[38.25,34.6],[38.3,34.0],[38.4,34.5],[38.5,33.7],[38.55,34.3],[38.6,33.6],[38.7,34.2],[38.8,33.5],
  [38.85,34.1],[38.9,33.4],[39.0,34.0],[39.1,33.6],[39.15,34.3],[39.2,33.8],[39.3,34.4],[39.4,33.7],[39.45,34.2],[39.5,33.6],
  [39.6,34.3],[39.7,33.8],[39.75,34.4],[39.8,33.5],[39.9,34.1],[40.0,33.6],[40.05,34.2],[40.1,33.4],[40.2,34.0],[40.3,33.5],
  [40.35,34.1],[40.4,33.3],[40.5,33.9],[40.6,33.4],[40.65,34.0],[40.7,33.2],[40.8,33.8],[40.9,33.1],[40.95,33.6],[41.0,32.9],
  [41.1,33.5],[41.2,32.8],[41.25,33.4],[41.3,32.7],[41.4,33.3],[41.5,32.9],[41.55,33.6],[41.6,33.1],[41.7,33.8],[41.8,33.4],
  [41.85,34.2],[41.9,33.7],[42.0,34.5],[42.05,34.1],[42.1,34.9],[42.15,34.5],[42.2,35.3],[42.25,34.9],[42.3,35.7],[42.35,35.3],
  [42.4,36.1],[42.45,35.6],[42.5,36.4],[42.55,35.9],[42.6,36.7],[42.65,36.2],[42.7,37.0],[42.75,36.4],[42.8,36.9],[42.85,36.2],
  [42.9,36.8],[43.0,36.1],[43.05,36.7],[43.1,35.9],[43.2,36.5],[43.25,35.8],[43.3,36.3],[43.4,35.6],[43.45,36.1],[43.5,35.4],
  [43.6,35.9],[43.65,35.2],[43.7,35.7],[43.8,35.0],[43.85,35.5],[43.9,34.8],[44.0,35.3],[44.1,34.7],[44.15,35.2],[44.2,34.5],
  [44.3,35.1],[44.4,34.4],[44.45,34.9],[44.5,34.3],[44.6,34.8],[44.7,34.1],[44.75,34.7],[44.8,34.0],[44.9,34.6],[45.0,33.9],
  [45.05,34.5],[45.1,33.8],[45.2,34.4],[45.3,33.7],[45.35,34.3],[45.4,33.6],[45.5,34.2],[45.6,33.5],[45.65,34.1],[45.7,33.4],
  [45.8,34.0],[45.9,33.3],[45.95,33.9],[46.0,33.2],[46.1,33.8],[46.2,33.1],[46.25,33.7],[46.3,33.0],[46.4,33.6],[46.5,32.9],
  [46.55,33.5],[46.6,33.2],[46.7,33.7]
];

const enthWide: P[] = [
  [10.42,57.4],[10.58,54.9],[10.78,57.5],[10.98,54.6],[11.25,56.6],[11.45,53.8],[11.65,55.7],[11.85,52.8],[12.05,54.5],[12.28,51.0],
  [12.42,53.2],[12.62,49.8],[12.78,52.3],[12.92,50.9],[13.12,52.6],[13.28,57.2],[13.42,55.0],[13.62,58.0],[13.82,55.0],[14.02,57.8],
  [14.22,54.6],[14.42,56.8],[14.62,53.4],[14.82,54.8],[15.02,50.9],[15.22,52.4],[15.42,48.6],[15.62,50.4],[15.82,47.1],[16.02,49.0],
  [16.22,46.0],[16.42,47.4],[16.62,44.6],[16.82,46.2],[17.02,43.5],[17.22,45.1],[17.42,42.6],[17.62,44.0],[17.82,41.7],[18.02,43.0],
  [18.22,40.9],[18.42,42.6],[18.62,40.0],[18.82,41.8],[19.02,39.6],[19.22,41.0],[19.42,38.9],[19.62,40.5],[19.82,38.2],[20.02,39.8],
  [20.22,37.7],[20.42,39.3],[20.62,37.1],[20.82,38.7],[21.02,36.6],[21.22,38.2],[21.42,36.1],[21.62,37.6],[21.82,35.6],[22.02,37.0],
  [22.22,35.1],[22.42,36.7],[22.62,34.7],[22.82,36.1],[23.02,34.2],[23.22,35.6],[23.42,33.2],[23.62,32.5],[23.82,32.6],[24.02,33.4],
  [24.22,35.4],[24.42,36.9],[24.62,38.6],[24.82,39.7],[25.02,42.0],[25.22,40.2],[25.42,42.0],[25.62,40.3],[25.82,41.8],[26.02,39.9],
  [26.22,41.3],[26.42,39.5],[26.62,41.1],[26.82,39.2],[27.02,40.7],[27.22,38.8],[27.42,40.0],[27.62,38.1],[27.82,39.4],[28.02,37.2],
  [28.22,38.0],[28.42,35.7],[28.62,34.9],[28.82,35.5],[29.02,36.6],[29.22,39.8],[29.42,39.8],[29.62,42.0],[29.82,41.3],[30.02,38.9],
  [30.22,39.6],[30.42,37.3],[30.62,38.5],[30.82,36.4],[31.02,36.8],[31.22,38.3],[31.42,37.0],[31.62,39.1],[31.82,37.6],[32.02,39.6],
  [32.22,37.9],[32.42,39.5],[32.62,37.9],[32.82,39.4],[33.02,37.3],[33.22,38.7],[33.42,36.6],[33.62,38.0],[33.82,35.8],[34.02,36.9],
  [34.22,34.7],[34.42,35.7],[34.62,33.8],[34.82,35.4],[35.02,34.2],[35.22,36.0],[35.42,34.4],[35.62,35.8],[35.82,34.1],[36.02,35.6],
  [36.22,33.7],[36.42,34.9],[36.62,33.0],[36.82,34.3],[37.02,32.6],[37.22,34.5],[37.42,33.0],[37.62,34.8],[37.82,33.3],[38.02,35.0],
  [38.22,33.3],[38.42,35.0],[38.62,33.1],[38.82,34.7],[39.02,33.0],[39.22,34.8],[39.42,33.2],[39.62,34.8],[39.82,33.0],[40.02,34.6],
  [40.22,32.9],[40.42,34.5],[40.62,32.8],[40.82,34.3],[41.02,32.4],[41.22,33.9],[41.42,32.3],[41.62,34.0],[41.82,32.9],[42.02,35.1],
  [42.22,34.6],[42.42,36.7],[42.62,35.6],[42.82,37.5],[43.02,35.5],[43.22,37.0],[43.42,35.0],[43.62,36.4],[43.82,34.5],[44.02,35.9],
  [44.22,34.0],[44.42,35.5],[44.62,33.6],[44.82,35.2],[45.02,33.4],[45.22,34.9],[45.42,33.1],[45.62,34.7],[45.82,32.8],[46.02,34.4],
  [46.22,32.6],[46.42,34.1],[46.62,32.7]
];

const enthSpread: P[] = [
  [15.5,42.7],[15.2,39.6],[20.9,41.6],[19.6,44.1],[18.0,45.8],[24.1,30.1],[16.3,10.2],[11.5,7.2],[14.8,2.4],[9.9,13.1],[32.7,42.2],
  [25.5,42.5],[27.9,41.1],[33.2,40.7],[36.6,38.3],[30.8,33.1],[34.9,32.3],[42.7,37.9],[44.0,38.2],[44.5,36.7],[41.4,29.3],[39.3,35.2],
  [24.5,38.9],[17.3,44.8],[19.2,41.9],[21.8,38.6],[26.7,41.9],[28.9,39.5],[31.5,39.8],[37.8,35.6],[40.6,34.9],[45.6,35.7],[43.9,36.9],
  [46.2,35.1]
];

const X_TICKS_STEP = 5;
const EFF_TICK_STEP = 0.05;

const ORANGE = '#EE9352';
const TEAL = '#16999A';
const FONT = '"Liberation Sans", Arial, Helvetica, sans-serif';

export default function App() {
  const ref = useRef<HTMLDivElement>(null);
  useEffect(() => {
    if (!ref.current) return;
    const chart = echarts.init(ref.current, null, { renderer: 'svg' });
    const effData = [...effEarly, ...effBandA, ...effSpreadA, ...effBandB, ...effSpreadB, ...effBandC, ...effSpreadC, ...effWide];
    const enthData = [...enthEarly, ...enthDesc, ...enthRise, ...enthBand, ...enthWide, ...enthSpread];
    const axisLineStyle = { color: '#333', width: 1 };
    const isMult = (v: number, s: number) => Math.abs(v / s - Math.round(v / s)) < 1e-6;
    const titleStyle = { fontSize: 20, fontWeight: 'bold', color: '#111', fontFamily: FONT };
    chart.setOption({
      animation: false,
      backgroundColor: '#ffffff',
      textStyle: { fontFamily: FONT },
      grid: { left: 87, right: 64, top: 16, bottom: 65, containLabel: false },
      legend: {
        orient: 'vertical',
        left: 679,
        top: 32,
        itemWidth: 28,
        itemHeight: 7,
        itemGap: 7,
        symbolKeepAspect: true,
        textStyle: { fontSize: 16.5, color: '#222', fontFamily: FONT },
        data: [
          { name: 'Efficiency', icon: 'circle', itemStyle: { color: 'rgba(0,0,0,0)', borderColor: ORANGE, borderWidth: 1 } },
          { name: 'Enthalpy change', icon: 'path://M0,0L10,0L10,10L0,10Z', itemStyle: { color: 'rgba(0,0,0,0)', borderColor: TEAL, borderWidth: 1 } }
        ]
      },
      xAxis: [
        {
          type: 'value', position: 'bottom', min: -1.8, max: 50, splitNumber: 10,
          name: 'Time (min)', nameLocation: 'middle', nameGap: 40,
          nameTextStyle: { ...titleStyle, padding: [0, 0, 0, 36] },
          axisLine: { show: true, onZero: false, lineStyle: axisLineStyle },
          axisTick: { show: true, inside: true, length: 4, lineStyle: axisLineStyle },
          axisLabel: { fontSize: 18, color: '#222', margin: 9, fontFamily: FONT,
            formatter: (v: number) => (isMult(v, X_TICKS_STEP) ? String(Math.round(v)) : '') },
          splitLine: { show: false }
        },
        {
          type: 'value', position: 'top', min: -1.8, max: 50, splitNumber: 10,
          axisLine: { show: true, onZero: false, lineStyle: axisLineStyle },
          axisTick: { show: true, inside: true, length: 4, lineStyle: axisLineStyle },
          axisLabel: { show: false },
          splitLine: { show: false }
        }
      ],
      yAxis: [
        {
          type: 'value', position: 'left', min: 0.598, max: 1.046, splitNumber: 9,
          name: 'Efficiency, η', nameLocation: 'middle', nameRotate: 90, nameGap: 57,
          nameTextStyle: titleStyle,
          axisLine: { show: true, onZero: false, lineStyle: axisLineStyle },
          axisTick: { show: true, inside: true, length: 4, lineStyle: axisLineStyle },
          axisLabel: { fontSize: 18, color: '#222', margin: 5, fontFamily: FONT,
            formatter: (v: number) => (isMult(v, EFF_TICK_STEP) ? String(parseFloat(v.toFixed(2))) : '') },
          splitLine: { show: false }
        },
        {
          type: 'value', position: 'right', min: 0, max: 60, interval: 5,
          name: 'Enthalpy change, Δh (kJ/kg)', nameLocation: 'middle', nameRotate: 90, nameGap: 40,
          nameTextStyle: titleStyle,
          axisLine: { show: true, onZero: false, lineStyle: axisLineStyle },
          axisTick: { show: true, inside: true, length: 4, lineStyle: axisLineStyle },
          axisLabel: { fontSize: 18, color: '#222', margin: 3, fontFamily: FONT },
          splitLine: { show: false }
        }
      ],
      series: [
        {
          name: 'Efficiency', type: 'scatter', xAxisIndex: 0, yAxisIndex: 0,
          symbol: 'circle', symbolSize: 7,
          itemStyle: { color: 'rgba(0,0,0,0)', borderColor: ORANGE, borderWidth: 1 },
          data: effData
        },
        {
          name: 'Enthalpy change', type: 'scatter', xAxisIndex: 0, yAxisIndex: 1,
          symbol: 'rect', symbolSize: 6,
          itemStyle: { color: 'rgba(0,0,0,0)', borderColor: TEAL, borderWidth: 1.1 },
          data: enthData
        }
      ]
    });
    return () => chart.dispose();
  }, []);
  return (
    <div
      ref={ref}
      style={{ position: 'fixed', left: 0, top: 0, width: 917, height: 578, background: '#fff' }}
    />
  );
}
